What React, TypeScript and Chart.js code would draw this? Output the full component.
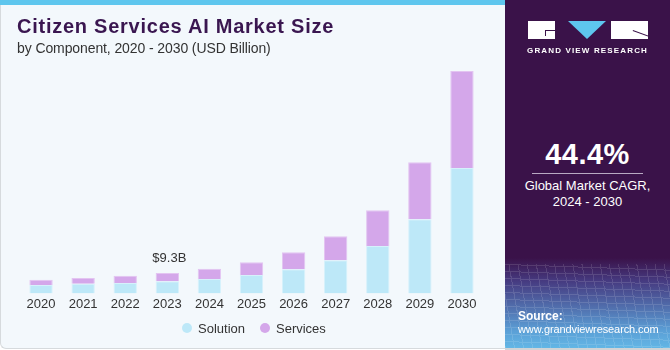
import React, { useEffect, useRef } from "react";
import { Chart, registerables } from "chart.js";

Chart.register(...registerables);

const years = ["2020", "2021", "2022", "2023", "2024", "2025", "2026", "2027", "2028", "2029", "2030"];
const solution = [3.85, 4.44, 4.72, 5.5, 6.55, 8.4, 11.0, 15.1, 21.7, 33.9, 57.3];
const services = [2.43, 2.56, 3.38, 3.8, 4.75, 5.8, 7.8, 11.0, 16.3, 26.0, 44.4];
const seriesNames = ["Solution", "Services"];
const seriesColors = ["#bde8f8", "#d4a7ea"];
const annotationIndex = 3;
const annotationText = "$9.3B";

const FONT = "'Liberation Sans', Arial, sans-serif";

const labelPlugin = {
  id: "barLabel",
  afterDatasetsDraw(chart: any) {
    const { ctx, scales } = chart;
    const total = solution[annotationIndex] + services[annotationIndex];
    const x = scales.x.getPixelForValue(annotationIndex);
    const y = scales.y.getPixelForValue(total);
    ctx.save();
    ctx.font = `13px ${FONT}`;
    ctx.fillStyle = "#333333";
    ctx.textAlign = "center";
    ctx.textBaseline = "middle";
    ctx.fillText(annotationText, x + 2, y - 15);
    ctx.restore();
  },
};

export default function App() {
  const ref = useRef<HTMLCanvasElement>(null);
  useEffect(() => {
    document.body.style.margin = "0";
    const chart = new Chart(ref.current!, {
      type: "bar",
      data: {
        labels: years,
        datasets: [
          {
            label: seriesNames[0],
            data: solution,
            backgroundColor: seriesColors[0],
            borderColor: "#d6f1fb",
            borderWidth: 1,
            categoryPercentage: 0.6,
            barPercentage: 0.925,
          },
          {
            label: seriesNames[1],
            data: services,
            backgroundColor: seriesColors[1],
            borderColor: "#e3c4f1",
            borderWidth: 1,
            categoryPercentage: 0.6,
            barPercentage: 0.925,
          },
        ],
      },
      options: {
        responsive: false,
        animation: false,
        layout: { padding: { left: 20, right: 22, top: 60, bottom: 35 } },
        plugins: {
          legend: { display: false },
          tooltip: { enabled: false },
        },
        scales: {
          x: {
            stacked: true,
            grid: { display: false, drawTicks: false },
            border: { display: false },
            ticks: { color: "#333333", font: { family: FONT, size: 13 }, padding: 3 },
          },
          y: {
            stacked: true,
            display: false,
            min: 0,
            max: 106.7,
          },
        },
      },
      plugins: [labelPlugin],
    });
    return () => chart.destroy();
  }, []);

  const legendItem = (i: number, left: number) => (
    <div style={{ position: "absolute", left, top: 320, height: 16, display: "flex", alignItems: "center", whiteSpace: "nowrap" }}>
      <span style={{ display: "inline-block", width: 10, height: 10, borderRadius: 5, background: seriesColors[i], marginRight: 6 }} />
      <span style={{ fontSize: 13, color: "#333333" }}>{seriesNames[i]}</span>
    </div>
  );

  return (
    <div style={{ position: "fixed", left: 0, top: 0, width: 670, height: 350, overflow: "hidden", background: "#ffffff", fontFamily: FONT }}>
      <div style={{ position: "absolute", left: 0, top: 0, width: 505, height: 349, background: "#f3f8fc", borderLeft: "1px solid #d6dadd", borderBottom: "1px solid #d6dadd", borderBottomLeftRadius: 6, boxSizing: "border-box" }} />
      <div style={{ position: "absolute", left: 0, top: 0, width: 505, height: 5, background: "#5ec6ee" }} />
      <canvas ref={ref} width={505} height={350} style={{ position: "absolute", left: 0, top: 0 }} />
      <div style={{ position: "absolute", left: 17, top: 15, fontSize: 20, fontWeight: 900, color: "#3a1650", whiteSpace: "nowrap", letterSpacing: 0.75 }}>
        Citizen Services AI Market Size
      </div>
      <div style={{ position: "absolute", left: 17, top: 40, fontSize: 14, color: "#333333", whiteSpace: "nowrap", letterSpacing: -0.1 }}>
        by Component, 2020 - 2030 (USD Billion)
      </div>
      {legendItem(0, 182)}
      {legendItem(1, 260)}
      {/* right panel */}
      <div style={{ position: "absolute", left: 505, top: 0, width: 165, height: 349, background: "#3a1249", overflow: "hidden" }}>
        <div style={{ position: "absolute", left: 0, top: 258, width: 165, height: 91, background: "linear-gradient(180deg, #3a1249 0%, #463a80 25%, #5170ae 55%, #5b9fd6 80%, #63b8e6 100%)" }} />
        <div style={{ position: "absolute", left: 0, top: 264, width: 165, height: 85, opacity: 0.12, backgroundImage: "repeating-linear-gradient(80deg, #ffffff 0px, #ffffff 1px, transparent 1px, transparent 9px), repeating-linear-gradient(2deg, #ffffff 0px, #ffffff 1px, transparent 1px, transparent 7px)" }} />
        {/* logo */}
        <div style={{ position: "absolute", left: 23, top: 21, width: 27, height: 18, background: "#ffffff" }}>
          <div style={{ position: "absolute", left: 17, top: 9, width: 10, height: 1, background: "#3a1249" }} />
          <div style={{ position: "absolute", left: 17, top: 9, width: 1, height: 6, background: "#3a1249" }} />
        </div>
        <div style={{ position: "absolute", left: 63, top: 21, width: 0, height: 0, borderLeft: "19px solid transparent", borderRight: "19px solid transparent", borderTop: "18px solid #5ec6ee" }} />
        <div style={{ position: "absolute", left: 106, top: 21, width: 37, height: 18, background: "#ffffff", overflow: "hidden" }}>
          <div style={{ position: "absolute", left: 22, top: 9, width: 18, height: 1, background: "#3a1249", transform: "rotate(20deg)", transformOrigin: "0 0" }} />
        </div>
        <div style={{ position: "absolute", left: 0, top: 46, width: 165, textAlign: "center", color: "#ffffff", fontSize: 8, fontWeight: 700, letterSpacing: 1.15, whiteSpace: "nowrap" }}>
          GRAND VIEW RESEARCH
        </div>
        <div style={{ position: "absolute", left: 0, top: 138, width: 165, textAlign: "center", color: "#ffffff", fontSize: 29, fontWeight: 700, letterSpacing: 0.5 }}>
          44.4%
        </div>
        <div style={{ position: "absolute", left: 27, top: 173, width: 111, height: 1, background: "#b9a9c3" }} />
        <div style={{ position: "absolute", left: 0, top: 178, width: 165, textAlign: "center", color: "#ffffff", fontSize: 13, lineHeight: "16px" }}>
          Global Market CAGR,
          <br />
          2024 - 2030
        </div>
        <div style={{ position: "absolute", left: 13, top: 309, color: "#ffffff", fontSize: 12, fontWeight: 700, lineHeight: "14px" }}>Source:</div>
        <div style={{ position: "absolute", left: 13, top: 322, color: "#ffffff", fontSize: 11, lineHeight: "14px", whiteSpace: "nowrap", letterSpacing: -0.1 }}>www.grandviewresearch.com</div>
      </div>
      <div style={{ position: "absolute", left: 505, top: 348, width: 165, height: 2, background: "#cfd3d6" }} />
    </div>
  );
}
